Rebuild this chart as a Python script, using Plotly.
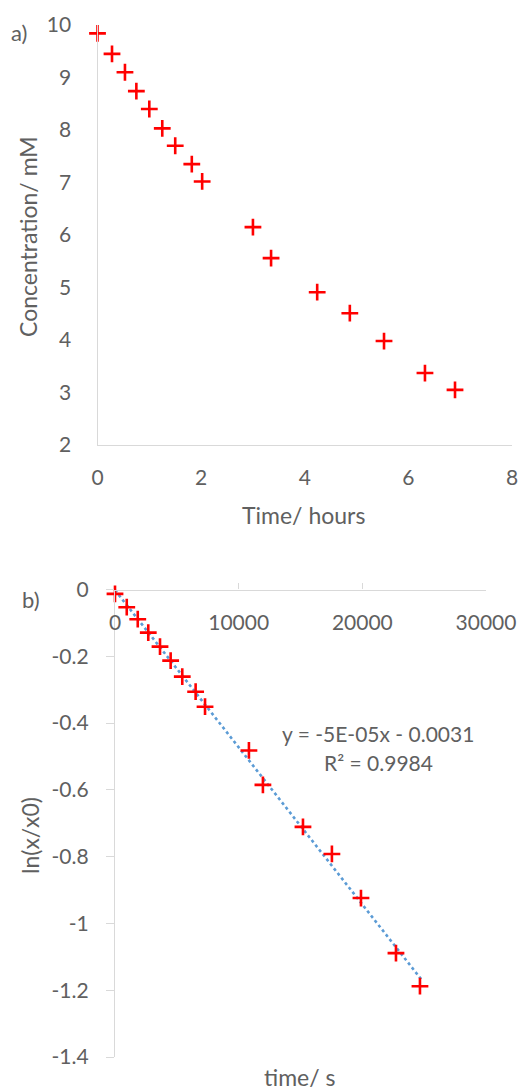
import numpy as np
import plotly.graph_objects as go

W, H = 526, 1091
OFF = 8  # the page body keeps an 8px margin around the figure
FW, FH = W - OFF, H - OFF

# a) concentration vs time (read off the picture)
t_hours = [0, 0.28, 0.53, 0.75, 1.0, 1.25, 1.5, 1.82, 2.02, 3.0, 3.35, 4.24, 4.87, 5.53, 6.32, 6.9]
conc_mM = [9.84, 9.45, 9.10, 8.74, 8.40, 8.03, 7.70, 7.35, 7.02, 6.15, 5.56, 4.91, 4.51, 3.98, 3.37, 3.05]

# b) ln(x/x0) vs time in seconds
t_sec = [0, 950, 1840, 2690, 3640, 4500, 5440, 6520, 7280, 10830, 11960, 15200, 17540, 19890, 22720, 24660]
ln_ratio = [-0.013, -0.053, -0.089, -0.129, -0.171, -0.213, -0.261, -0.306, -0.351,
            -0.482, -0.585, -0.711, -0.792, -0.924, -1.089, -1.188]

a_yticks = [2, 3, 4, 5, 6, 7, 8, 9, 10]
a_xticks = [0, 2, 4, 6, 8]
b_yticks = [0, -0.2, -0.4, -0.6, -0.8, -1, -1.2, -1.4]
b_yticktext = ["0", "-0.2", "-0.4", "-0.6", "-0.8", "-1", "-1.2", "-1.4"]
b_xticks = [0, 10000, 20000, 30000]
b_xticktext = ["0", "10000", "20000", "30000"]

eq_text = "y = -5E-05x - 0.0031"
r2_text = "R² = 0.9984"

FONT = "Lato"
GREY_TXT = "#606060"
AXIS_GREY = "#d9d9d9"


def px(x):
    return (x - OFF) / FW


def py(y):
    return 1 - (y - OFF) / FH


# linear trend line for panel b
slope, icpt = np.polyfit(t_sec, ln_ratio, 1)
trend_x = np.array([0, t_sec[-1] + 150])
trend_y = slope * trend_x + icpt

fig = go.Figure()

cross = dict(symbol="cross-thin", size=12, line=dict(color="#ff0000", width=2.6))

fig.add_trace(go.Scatter(
    x=t_hours, y=conc_mM, mode="markers", xaxis="x", yaxis="y",
    marker=cross, cliponaxis=False, showlegend=False))

fig.add_trace(go.Scatter(
    x=trend_x, y=trend_y, mode="lines", xaxis="x2", yaxis="y2",
    line=dict(color="#5b9bd5", width=2.6, dash="dot"), cliponaxis=False, showlegend=False))

fig.add_trace(go.Scatter(
    x=t_sec, y=ln_ratio, mode="markers", xaxis="x2", yaxis="y2",
    marker=cross, cliponaxis=False, showlegend=False))

tick_font = dict(family=FONT, size=21, color=GREY_TXT)
common = dict(showgrid=False, zeroline=False, showline=True, linecolor=AXIS_GREY,
              linewidth=1.3, tickfont=tick_font, automargin=False)

fig.update_layout(
    width=FW, height=FH,
    margin=dict(l=0, r=0, t=0, b=0),
    paper_bgcolor="white", plot_bgcolor="white",
    font=dict(family=FONT, color=GREY_TXT),
    xaxis=dict(domain=[px(97.5), px(512)], range=[0, 8], tickvals=a_xticks,
               ticks="", ticklabelstandoff=14, anchor="y", **common),
    yaxis=dict(domain=[py(445), py(25)], range=[2, 10], tickvals=a_yticks,
               ticks="", ticklabelstandoff=21, anchor="x", **common),
    xaxis2=dict(domain=[px(115), px(486)], range=[0, 30000],
                tickvals=b_xticks, ticktext=b_xticktext,
                ticks="inside", ticklen=6, tickcolor=AXIS_GREY, ticklabelstandoff=14,
                anchor="free", position=py(589.5), side="bottom", **common),
    yaxis2=dict(domain=[py(1057), py(589.5)], range=[-1.4, 0],
                tickvals=b_yticks, ticktext=b_yticktext,
                ticks="outside", ticklen=8, tickcolor=AXIS_GREY,
                ticklabelstandoff=13, anchor="x2", **common),
)

annots = [
    dict(text="a)", x=px(19), y=py(32), size=22),
    dict(text="b)", x=px(31), y=py(599), size=22),
    dict(text="Time/ hours", x=px(303), y=py(515), size=23),
    dict(text="time/ s", x=px(300), y=py(1077), size=23),
    dict(text=eq_text, x=px(378), y=py(733), size=21),
    dict(text=r2_text, x=px(378), y=py(762), size=21),
]
for a in annots:
    fig.add_annotation(text=a["text"], x=a["x"], y=a["y"], xref="paper", yref="paper",
                       showarrow=False, xanchor="center", yanchor="middle",
                       font=dict(family=FONT, size=a["size"], color=GREY_TXT))

fig.add_annotation(text="Concentration/ mM", x=px(28), y=py(237), xref="paper", yref="paper",
                   showarrow=False, textangle=-90, xanchor="center", yanchor="middle",
                   font=dict(family=FONT, size=23, color=GREY_TXT))
fig.add_annotation(text="ln(x/x0)", x=px(30), y=py(836), xref="paper", yref="paper",
                   showarrow=False, textangle=-90, xanchor="center", yanchor="middle",
                   font=dict(family=FONT, size=23, color=GREY_TXT))

fig.write_html("out.html")
